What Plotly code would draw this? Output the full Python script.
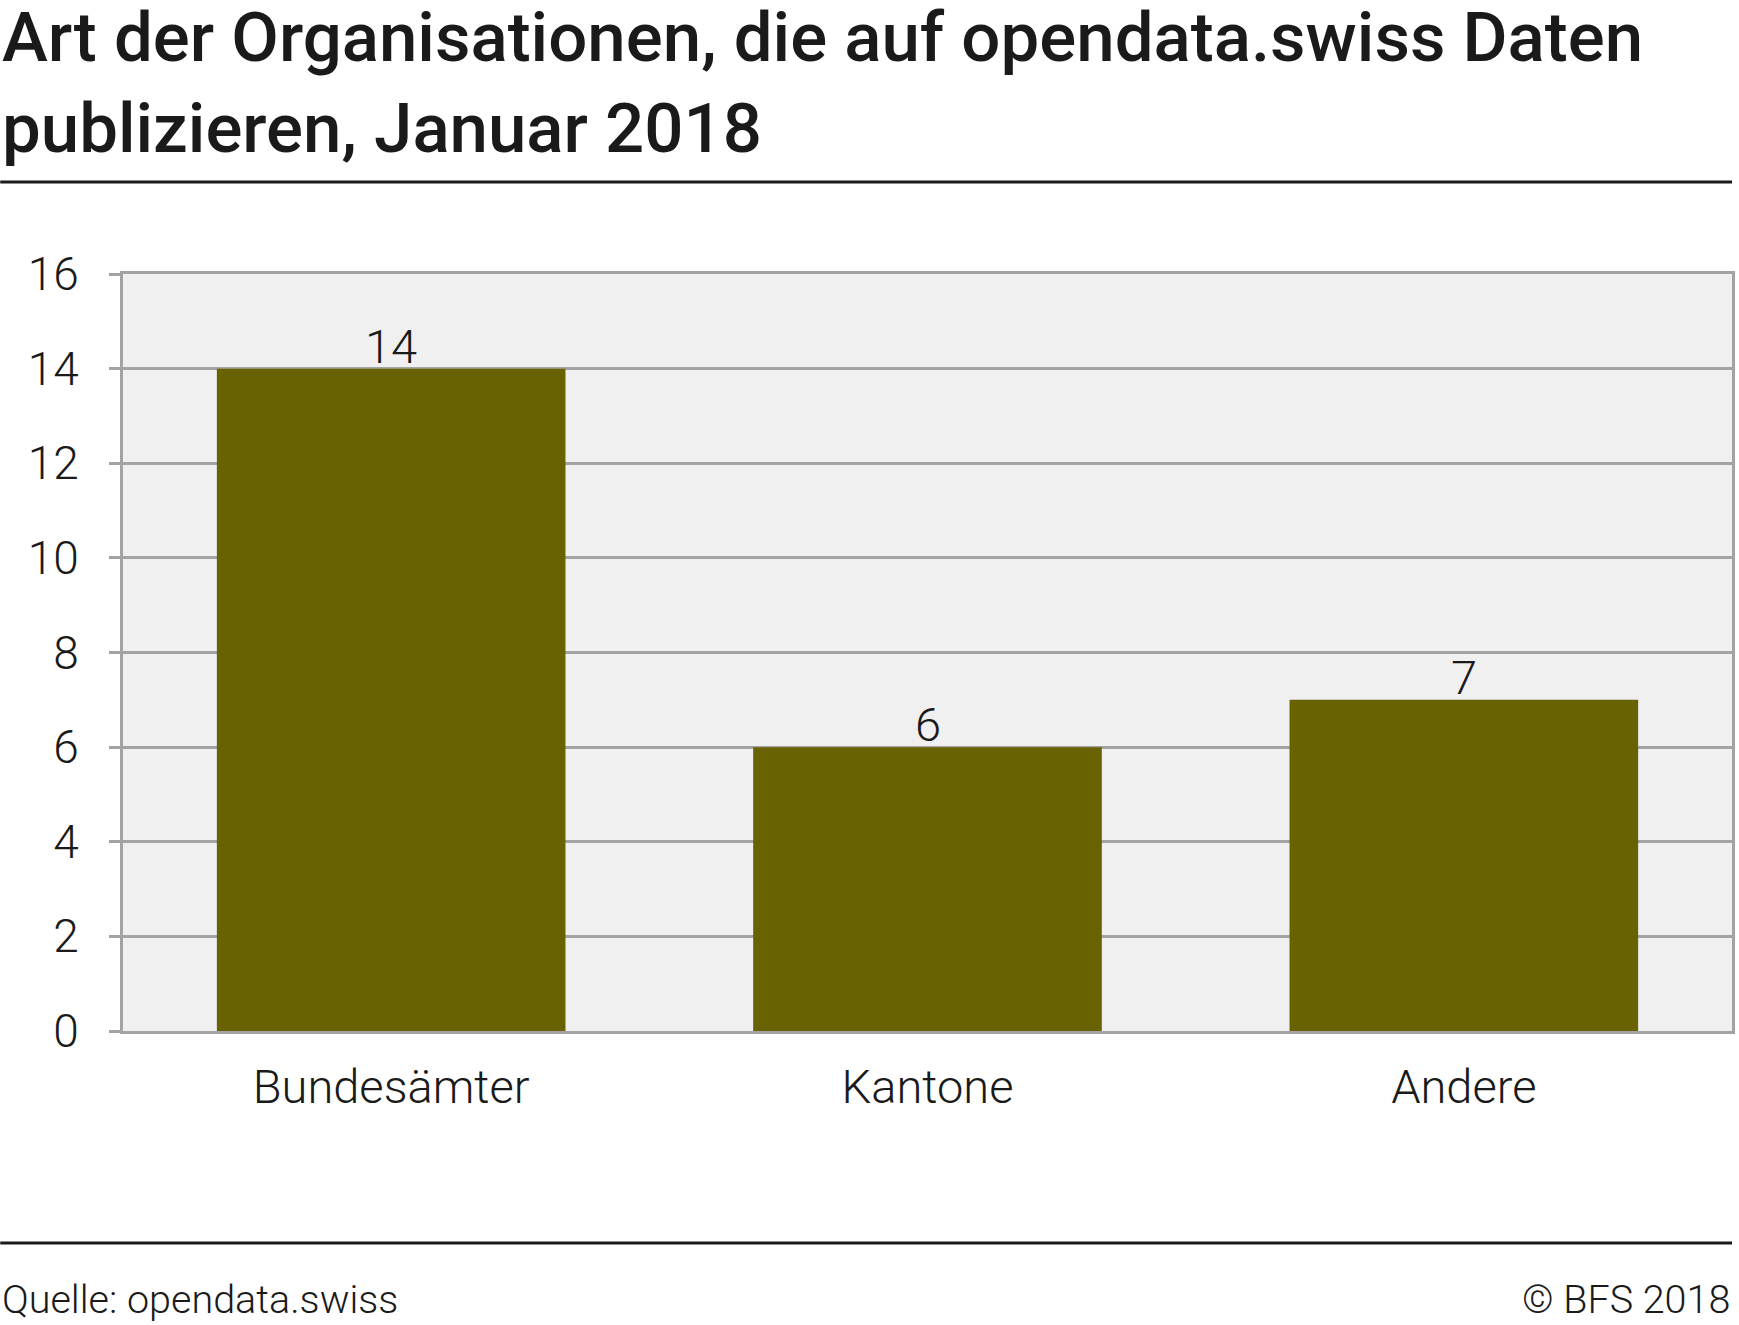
import plotly.graph_objects as go

categories = ["Bundesämter", "Kantone", "Andere"]
values = [14, 6, 7]
y_ticks = [0, 2, 4, 6, 8, 10, 12, 14, 16]

W, H = 1739, 1325
L, R, T, B = 123, 1735, 274, 1031  # plot area in pixels

def px(x):
    return (x - L) / (R - L)

def py(y):
    return (B - y) / (B - T)

BAR = "#686200"
GRID = "#a3a3a3"
TXT = "#1a1a1a"
LIGHT = dict(family="Roboto", weight=300, color=TXT)

fig = go.Figure()
fig.add_trace(go.Bar(
    x=categories, y=values,
    marker=dict(color=BAR, line=dict(width=0)),
    hoverinfo="skip",
))

# value labels above bars
for c, v in zip(categories, values):
    fig.add_annotation(x=c, y=v, text=str(v), xref="x", yref="y",
                       xanchor="center", yanchor="bottom", yshift=-7,
                       showarrow=False, font=dict(size=47, **LIGHT))

fig.update_layout(
    width=W, height=H,
    margin=dict(l=L, r=W - R, t=T, b=H - B, pad=0),
    paper_bgcolor="white",
    plot_bgcolor="#f0f0f0",
    showlegend=False,
    bargap=0.35,
    font=dict(family="Roboto", color=TXT),
)
fig.update_yaxes(
    range=[0, 16], tickvals=y_ticks, ticktext=[str(t) for t in y_ticks],
    showgrid=True, gridcolor=GRID, gridwidth=3,
    showline=True, linecolor=GRID, linewidth=3, mirror=True,
    ticks="outside", ticklen=11, tickwidth=3, tickcolor=GRID,
    tickfont=dict(size=46, **LIGHT),
    ticklabelstandoff=21,
    zeroline=False,
)
fig.update_xaxes(
    showgrid=False,
    showline=True, linecolor=GRID, linewidth=3, mirror=True,
    ticks="", tickfont=dict(size=47, **LIGHT),
    ticklabelstandoff=13,
)

TITLE_FONT = dict(family="Roboto", size=69, weight=500, color=TXT)
fig.add_annotation(text="Art der Organisationen, die auf opendata.swiss Daten",
                   xref="paper", yref="paper", x=px(0), y=py(80),
                   xanchor="left", yanchor="bottom", showarrow=False,
                   font=TITLE_FONT)
fig.add_annotation(text="publizieren, Januar 2018",
                   xref="paper", yref="paper", x=px(0), y=py(171),
                   xanchor="left", yanchor="bottom", showarrow=False,
                   font=TITLE_FONT)
# Footer
fig.add_annotation(text="Quelle: opendata.swiss",
                   xref="paper", yref="paper", x=px(0), y=py(1325),
                   xanchor="left", yanchor="bottom", showarrow=False,
                   font=dict(size=39.5, **LIGHT))
fig.add_annotation(text="© BFS 2018",
                   xref="paper", yref="paper", x=px(1735), y=py(1325),
                   xanchor="right", yanchor="bottom", showarrow=False,
                   font=dict(size=39.5, **LIGHT))
# Rules
for yy in (182, 1243):
    fig.add_shape(type="line", xref="paper", yref="paper",
                  x0=px(0), x1=px(1735), y0=py(yy), y1=py(yy),
                  line=dict(color=TXT, width=3))

fig.write_html("out.html",
               config={"displayModeBar": False, "staticPlot": True},
               post_script="document.body.style.margin='0';document.body.style.overflow='hidden';")
